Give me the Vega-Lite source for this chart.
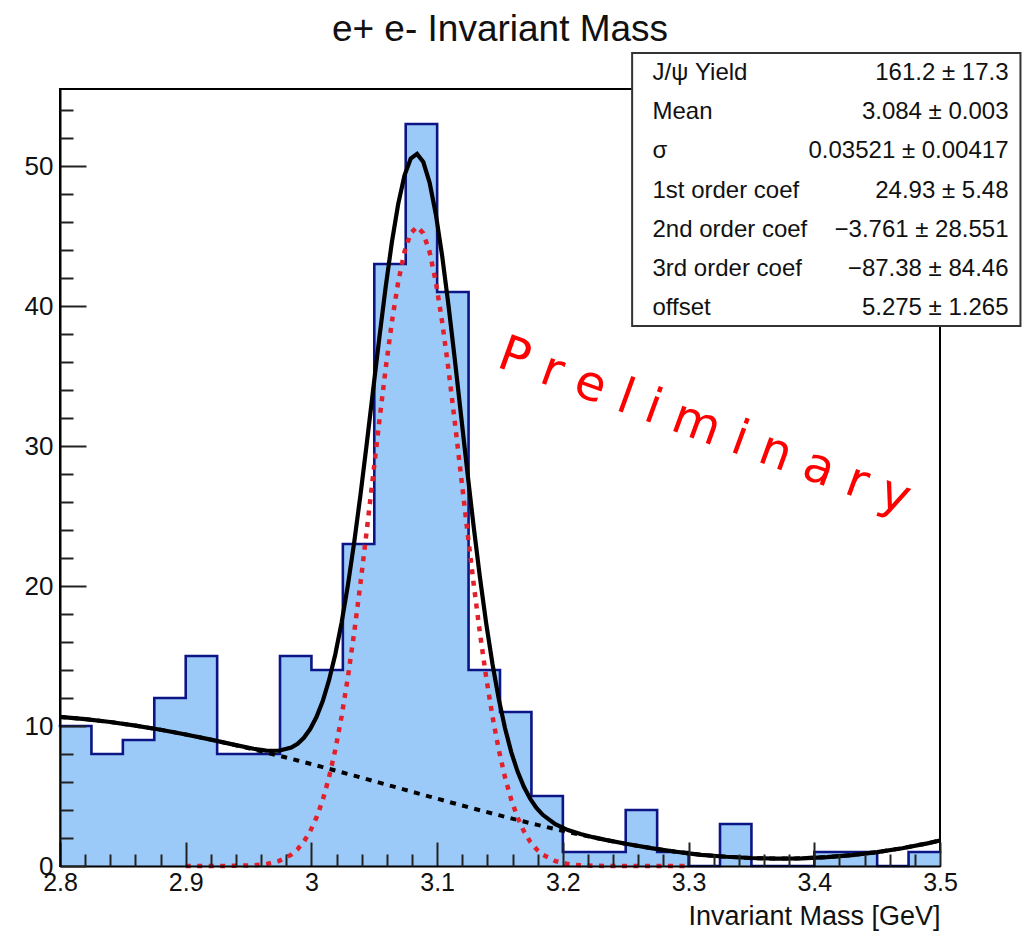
{
  "$schema": "https://vega.github.io/schema/vega-lite/v6.json",
  "autosize": "none",
  "width": 880,
  "height": 777,
  "padding": {"left": 60, "top": 89, "right": 89, "bottom": 70},
  "background": "white",
  "config": {
    "view": {"stroke": "#000", "strokeWidth": 2},
    "font": "Liberation Sans"
  },
  "title": {
    "text": "e+ e- Invariant Mass",
    "font": "Liberation Sans",
    "fontSize": 37,
    "fontWeight": "normal",
    "color": "#111",
    "anchor": "middle",
    "frame": "group",
    "offset": 7,
    "dy": 4
  },
  "datasets": {
    "bins": [
      {"lo": 2.800, "hi": 2.825, "count": 10},
      {"lo": 2.825, "hi": 2.850, "count": 8},
      {"lo": 2.850, "hi": 2.875, "count": 9},
      {"lo": 2.875, "hi": 2.900, "count": 12},
      {"lo": 2.900, "hi": 2.925, "count": 15},
      {"lo": 2.925, "hi": 2.950, "count": 8},
      {"lo": 2.950, "hi": 2.975, "count": 8},
      {"lo": 2.975, "hi": 3.000, "count": 15},
      {"lo": 3.000, "hi": 3.025, "count": 14},
      {"lo": 3.025, "hi": 3.050, "count": 23},
      {"lo": 3.050, "hi": 3.075, "count": 43},
      {"lo": 3.075, "hi": 3.100, "count": 53},
      {"lo": 3.100, "hi": 3.125, "count": 41},
      {"lo": 3.125, "hi": 3.150, "count": 14},
      {"lo": 3.150, "hi": 3.175, "count": 11},
      {"lo": 3.175, "hi": 3.200, "count": 5},
      {"lo": 3.200, "hi": 3.225, "count": 1},
      {"lo": 3.225, "hi": 3.250, "count": 1},
      {"lo": 3.250, "hi": 3.275, "count": 4},
      {"lo": 3.275, "hi": 3.300, "count": 1},
      {"lo": 3.300, "hi": 3.325, "count": 0},
      {"lo": 3.325, "hi": 3.350, "count": 3},
      {"lo": 3.350, "hi": 3.375, "count": 0},
      {"lo": 3.375, "hi": 3.400, "count": 0},
      {"lo": 3.400, "hi": 3.425, "count": 1},
      {"lo": 3.425, "hi": 3.450, "count": 1},
      {"lo": 3.450, "hi": 3.475, "count": 0},
      {"lo": 3.475, "hi": 3.500, "count": 1}
    ],
    "fit": [
      {"x": 2.800, "total": 10.647, "bkg": 10.647, "sig": 0},
      {"x": 2.820, "total": 10.491, "bkg": 10.491, "sig": 0},
      {"x": 2.840, "total": 10.284, "bkg": 10.284, "sig": 0},
      {"x": 2.860, "total": 10.029, "bkg": 10.029, "sig": 0},
      {"x": 2.880, "total": 9.732, "bkg": 9.732, "sig": 0},
      {"x": 2.900, "total": 9.395, "bkg": 9.395, "sig": 0},
      {"x": 2.920, "total": 9.025, "bkg": 9.024, "sig": 0.001},
      {"x": 2.940, "total": 8.633, "bkg": 8.622, "sig": 0.011},
      {"x": 2.954, "total": 8.376, "bkg": 8.326, "sig": 0.05},
      {"x": 2.964, "total": 8.244, "bkg": 8.107, "sig": 0.137},
      {"x": 2.974, "total": 8.232, "bkg": 7.882, "sig": 0.35},
      {"x": 2.984, "total": 8.463, "bkg": 7.653, "sig": 0.81},
      {"x": 2.989, "total": 8.736, "bkg": 7.536, "sig": 1.20},
      {"x": 2.994, "total": 9.159, "bkg": 7.419, "sig": 1.74},
      {"x": 2.999, "total": 9.780, "bkg": 7.300, "sig": 2.48},
      {"x": 3.004, "total": 10.642, "bkg": 7.182, "sig": 3.46},
      {"x": 3.009, "total": 11.781, "bkg": 7.061, "sig": 4.72},
      {"x": 3.014, "total": 13.270, "bkg": 6.940, "sig": 6.33},
      {"x": 3.019, "total": 15.129, "bkg": 6.819, "sig": 8.31},
      {"x": 3.024, "total": 17.387, "bkg": 6.697, "sig": 10.69},
      {"x": 3.029, "total": 20.054, "bkg": 6.574, "sig": 13.48},
      {"x": 3.034, "total": 23.111, "bkg": 6.451, "sig": 16.66},
      {"x": 3.039, "total": 26.507, "bkg": 6.327, "sig": 20.18},
      {"x": 3.044, "total": 30.153, "bkg": 6.203, "sig": 23.95},
      {"x": 3.049, "total": 33.939, "bkg": 6.079, "sig": 27.86},
      {"x": 3.054, "total": 37.715, "bkg": 5.955, "sig": 31.76},
      {"x": 3.059, "total": 41.320, "bkg": 5.830, "sig": 35.49},
      {"x": 3.064, "total": 44.565, "bkg": 5.705, "sig": 38.86},
      {"x": 3.069, "total": 47.280, "bkg": 5.580, "sig": 41.70},
      {"x": 3.074, "total": 49.315, "bkg": 5.455, "sig": 43.86},
      {"x": 3.079, "total": 50.531, "bkg": 5.331, "sig": 45.20},
      {"x": 3.084, "total": 50.866, "bkg": 5.206, "sig": 45.66},
      {"x": 3.089, "total": 50.282, "bkg": 5.082, "sig": 45.20},
      {"x": 3.094, "total": 48.818, "bkg": 4.958, "sig": 43.86},
      {"x": 3.099, "total": 46.535, "bkg": 4.835, "sig": 41.70},
      {"x": 3.104, "total": 43.571, "bkg": 4.711, "sig": 38.86},
      {"x": 3.109, "total": 40.078, "bkg": 4.588, "sig": 35.49},
      {"x": 3.114, "total": 36.226, "bkg": 4.466, "sig": 31.76},
      {"x": 3.119, "total": 32.204, "bkg": 4.344, "sig": 27.86},
      {"x": 3.124, "total": 28.173, "bkg": 4.223, "sig": 23.95},
      {"x": 3.129, "total": 24.282, "bkg": 4.102, "sig": 20.18},
      {"x": 3.134, "total": 20.643, "bkg": 3.983, "sig": 16.66},
      {"x": 3.139, "total": 17.345, "bkg": 3.865, "sig": 13.48},
      {"x": 3.144, "total": 14.437, "bkg": 3.747, "sig": 10.69},
      {"x": 3.149, "total": 11.940, "bkg": 3.630, "sig": 8.31},
      {"x": 3.154, "total": 9.844, "bkg": 3.514, "sig": 6.33},
      {"x": 3.159, "total": 8.120, "bkg": 3.400, "sig": 4.72},
      {"x": 3.164, "total": 6.746, "bkg": 3.286, "sig": 3.46},
      {"x": 3.169, "total": 5.655, "bkg": 3.175, "sig": 2.48},
      {"x": 3.174, "total": 4.803, "bkg": 3.063, "sig": 1.74},
      {"x": 3.179, "total": 4.154, "bkg": 2.954, "sig": 1.20},
      {"x": 3.184, "total": 3.656, "bkg": 2.846, "sig": 0.81},
      {"x": 3.194, "total": 2.984, "bkg": 2.634, "sig": 0.35},
      {"x": 3.204, "total": 2.567, "bkg": 2.430, "sig": 0.137},
      {"x": 3.214, "total": 2.283, "bkg": 2.233, "sig": 0.05},
      {"x": 3.224, "total": 2.059, "bkg": 2.042, "sig": 0.017},
      {"x": 3.234, "total": 1.865, "bkg": 1.860, "sig": 0.005},
      {"x": 3.250, "total": 1.588, "bkg": 1.587, "sig": 0.001},
      {"x": 3.270, "total": 1.280, "bkg": 1.280, "sig": 0},
      {"x": 3.290, "total": 1.015, "bkg": 1.015, "sig": 0},
      {"x": 3.300, "total": 0.899, "bkg": 0.899, "sig": 0},
      {"x": 3.310, "total": 0.800, "bkg": 0.800, "sig": 0},
      {"x": 3.330, "total": 0.660, "bkg": 0.660, "sig": 0},
      {"x": 3.350, "total": 0.570, "bkg": 0.570, "sig": 0},
      {"x": 3.370, "total": 0.530, "bkg": 0.530, "sig": 0},
      {"x": 3.390, "total": 0.550, "bkg": 0.550, "sig": 0},
      {"x": 3.410, "total": 0.630, "bkg": 0.630, "sig": 0},
      {"x": 3.430, "total": 0.780, "bkg": 0.780, "sig": 0},
      {"x": 3.450, "total": 0.990, "bkg": 0.990, "sig": 0},
      {"x": 3.470, "total": 1.270, "bkg": 1.270, "sig": 0},
      {"x": 3.490, "total": 1.620, "bkg": 1.620, "sig": 0},
      {"x": 3.500, "total": 1.820, "bkg": 1.820, "sig": 0}
    ],
    "stats": [
      {"order": 1, "param": "J/ψ Yield", "value": "161.2 ± 17.3"},
      {"order": 2, "param": "Mean", "value": "3.084 ± 0.003"},
      {"order": 3, "param": "σ", "value": "0.03521 ± 0.00417"},
      {"order": 4, "param": "1st order coef", "value": "24.93 ± 5.48"},
      {"order": 5, "param": "2nd order coef", "value": "−3.761 ± 28.551"},
      {"order": 6, "param": "3rd order coef", "value": "−87.38 ± 84.46"},
      {"order": 7, "param": "offset", "value": "5.275 ± 1.265"}
    ]
  },
  "layer": [
    {
      "resolve": {"axis": {"x": "independent", "y": "independent"}},
      "layer": [
        {
          "data": {"name": "bins"},
          "mark": {"type": "rect", "fill": "#9ccaf8", "stroke": "#9ccaf8", "strokeWidth": 1},
          "encoding": {
            "x": {
              "field": "lo", "type": "quantitative",
              "scale": {"domain": [2.8, 3.5], "nice": false, "zero": false},
              "axis": {
                "orient": "bottom", "zindex": 2,
                "values": [2.8, 2.9, 3.0, 3.1, 3.2, 3.3, 3.4, 3.5],
                "format": "~g",
                "grid": false,
                "domainColor": "#000", "domainWidth": 2,
                "tickColor": "#222", "tickWidth": 2, "tickSize": -24,
                "labelFont": "Liberation Sans", "labelFontSize": 25, "labelColor": "#111",
                "labelPadding": 28, "labelFlush": false, "labelOverlap": false,
                "title": "Invariant Mass [GeV]",
                "titleFont": "Liberation Sans", "titleFontSize": 27, "titleFontWeight": "normal",
                "titleColor": "#111", "titleAnchor": "end", "titleAlign": "right", "titlePadding": 8
              }
            },
            "x2": {"field": "hi"},
            "y": {
              "field": "count", "type": "quantitative",
              "scale": {"domain": [0, 55.5], "nice": false},
              "axis": {
                "orient": "left", "zindex": 2,
                "values": [0, 10, 20, 30, 40, 50],
                "grid": false,
                "domainColor": "#000", "domainWidth": 2,
                "tickColor": "#222", "tickWidth": 2, "tickSize": -26,
                "labelFont": "Liberation Sans", "labelFontSize": 26, "labelColor": "#111",
                "labelPadding": 33, "labelFlush": false, "labelOverlap": false,
                "title": null
              }
            },
            "y2": {"datum": 0}
          }
        },
        {
          "data": {"name": "bins"},
          "transform": [{"fold": ["lo", "hi"], "as": ["edgeKind", "edge"]}],
          "mark": {"type": "line", "color": "#0b1585", "strokeWidth": 2.6, "strokeJoin": "miter", "strokeCap": "square"},
          "encoding": {
            "x": {
              "field": "edge", "type": "quantitative",
              "axis": {
                "orient": "bottom", "zindex": 2,
                "values": [2.82, 2.84, 2.86, 2.88, 2.92, 2.94, 2.96, 2.98, 3.02, 3.04, 3.06, 3.08, 3.12, 3.14, 3.16, 3.18, 3.22, 3.24, 3.26, 3.28, 3.32, 3.34, 3.36, 3.38, 3.42, 3.44, 3.46, 3.48],
                "grid": false, "domain": false, "labels": false, "title": null,
                "tickColor": "#222", "tickWidth": 2, "tickSize": -12
              }
            },
            "y": {
              "field": "count", "type": "quantitative",
              "axis": {
                "orient": "left", "zindex": 2,
                "values": [2, 4, 6, 8, 12, 14, 16, 18, 22, 24, 26, 28, 32, 34, 36, 38, 42, 44, 46, 48, 52, 54],
                "grid": false, "domain": false, "labels": false, "title": null,
                "tickColor": "#222", "tickWidth": 2, "tickSize": -13
              }
            },
            "order": [
              {"field": "edge", "type": "quantitative"},
              {"field": "edgeKind", "type": "nominal"}
            ]
          }
        },
        {
          "data": {"name": "fit"},
          "mark": {"type": "line", "color": "#000", "strokeWidth": 4, "strokeDash": [6, 6.5]},
          "encoding": {
            "x": {"field": "x", "type": "quantitative", "axis": null},
            "y": {"field": "bkg", "type": "quantitative", "axis": null}
          }
        },
        {
          "data": {"name": "fit"},
          "mark": {"type": "line", "color": "#000", "strokeWidth": 4.2},
          "encoding": {
            "x": {"field": "x", "type": "quantitative", "axis": null},
            "y": {"field": "total", "type": "quantitative", "axis": null}
          }
        },
        {
          "data": {"name": "fit"},
          "transform": [{"filter": {"field": "x", "range": [2.9, 3.3]}}],
          "mark": {"type": "line", "color": "#e2202c", "strokeWidth": 4.5, "strokeDash": [5, 6.5]},
          "encoding": {
            "x": {"field": "x", "type": "quantitative", "axis": null},
            "y": {"field": "sig", "type": "quantitative", "axis": null}
          }
        },
        {
          "data": {"values": [{"label": "P r e l i m i n a r y"}]},
          "mark": {
            "type": "text",
            "font": "DejaVu Sans", "fontSize": 49, "color": "#ff0000",
            "angle": 20, "align": "center", "baseline": "middle"
          },
          "encoding": {
            "x": {"datum": 3.3127, "type": "quantitative", "axis": null},
            "y": {"datum": 31.4, "type": "quantitative", "axis": null},
            "text": {"field": "label"}
          }
        },
        {
          "data": {"values": [{"box": "stats"}]},
          "mark": {"type": "rect", "fill": "white", "stroke": "#333", "strokeWidth": 2},
          "encoding": {
            "x": {"datum": 3.2551, "type": "quantitative", "axis": null},
            "x2": {"datum": 3.564},
            "y": {"datum": 58.07, "type": "quantitative", "axis": null},
            "y2": {"datum": 38.57}
          }
        }
      ]
    },
    {
      "data": {"name": "stats"},
      "layer": [
        {
          "mark": {"type": "text", "align": "left", "baseline": "middle", "font": "Liberation Sans", "fontSize": 24, "color": "#111"},
          "encoding": {
            "x": {"datum": 3.2713, "type": "quantitative", "axis": null},
            "y": {"field": "order", "type": "quantitative", "axis": null,
                  "scale": {"domain": [1.408, 21.25], "reverse": true, "zero": false, "nice": false}},
            "text": {"field": "param"}
          }
        },
        {
          "mark": {"type": "text", "align": "right", "baseline": "middle", "font": "Liberation Sans", "fontSize": 24, "color": "#111"},
          "encoding": {
            "x": {"datum": 3.5545, "type": "quantitative", "axis": null},
            "y": {"field": "order", "type": "quantitative", "axis": null},
            "text": {"field": "value"}
          }
        }
      ]
    }
  ],
  "resolve": {"scale": {"y": "independent"}}
}
